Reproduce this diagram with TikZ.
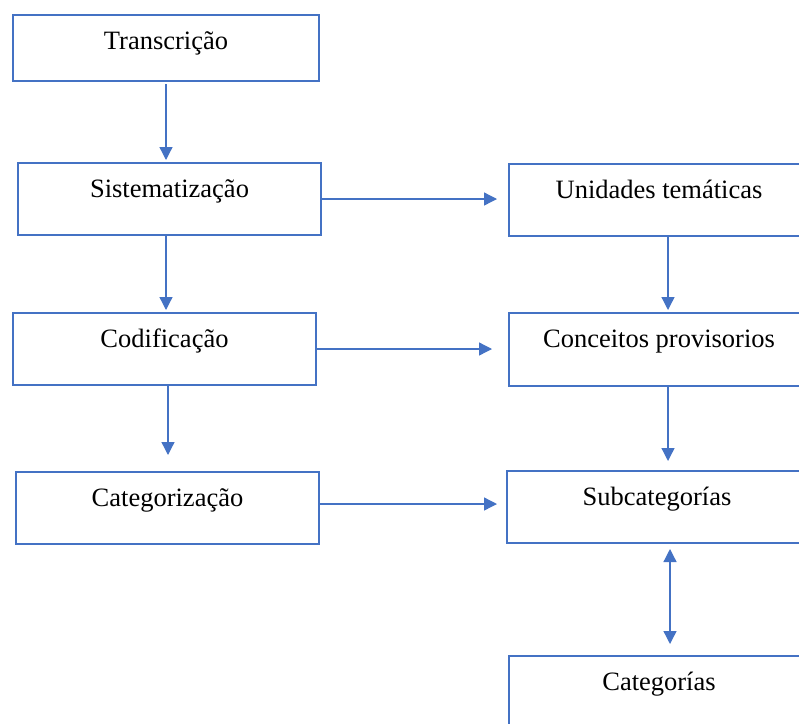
\documentclass[tikz,border=0pt]{standalone}
\usepackage{fontspec}
\setmainfont{Liberation Serif}
\usepackage{xcolor}
\usepackage{tikz}
\usetikzlibrary{arrows.meta, positioning}
\definecolor{wordblue}{HTML}{4472C4}

\begin{document}
\begin{tikzpicture}[x=1pt, y=-1pt,
    >={Triangle[width=13pt, length=13pt]},
    box/.style={draw=wordblue, line width=1.3pt, anchor=north west,
        inner sep=0pt, outer sep=0pt, minimum width=306pt, text height=34.5pt,
        font=\fontsize{26.5}{30}\selectfont},
    flecha/.style={->, draw=wordblue, fill=wordblue, line width=1.3pt}]
    \useasboundingbox (0,0) rectangle (799,723);
    \clip (0,0) rectangle (799,723);

    % 1. Coluna esquerda
    \node[box, text depth=31.5pt] (trans) at (13,15) {Transcrição};
    \node[box, minimum width=303pt, text depth=37.5pt] (sist) at (18,163) {Sistematização};
    \node[box, minimum width=303pt, text depth=37.5pt] (cod) at (13,313) {Codificação};
    \node[box, minimum width=303pt, text depth=37.5pt] (cat) at (16,472) {Categorização};

    % 2. Coluna direita
    \node[box, minimum width=300pt, text depth=37.5pt] (unid) at (509,164) {Unidades temáticas};
    \node[box, minimum width=300pt, text depth=38.5pt] (conc) at (509,313) {Conceitos provisorios};
    \node[box, minimum width=300pt, text depth=37.5pt] (sub) at (507,471) {Subcategorías};
    \node[box, minimum width=300pt, text depth=60pt] (cats) at (509,656) {Categorías};

    % 3. Setas verticais
    \draw[flecha, shorten <=3pt, shorten >=3pt] (trans.south) -- (trans.south |- sist.north);
    \draw[flecha, shorten >=3pt] (trans.south |- sist.south) -- (trans.south |- cod.north);
    \draw[flecha, shorten >=17pt] ([xshift=2pt]trans.south |- cod.south) -- ([xshift=2pt]trans.south |- cat.north);
    \draw[flecha, shorten >=3pt] ([xshift=159pt]unid.south west) -- ([xshift=159pt]conc.north west);
    \draw[flecha, shorten >=10pt] ([xshift=159pt]conc.south west) -- ([xshift=161pt]sub.north west);
    \draw[<->, draw=wordblue, fill=wordblue, line width=1.3pt, shorten <=6pt, shorten >=12pt]
        ([xshift=163pt]sub.south west) -- ([xshift=163pt]sub.south west |- cats.north);

    % 4. Setas horizontais
    \draw[flecha, shorten >=12pt] (sist.east) -- (sist.east -| unid.west);
    \draw[flecha, shorten >=17pt] (cod.east) -- (cod.east -| conc.west);
    \draw[flecha, shorten >=10pt] ([yshift=4pt]cat.east) -- ([yshift=4pt]cat.east -| sub.west);
\end{tikzpicture}
\end{document}
